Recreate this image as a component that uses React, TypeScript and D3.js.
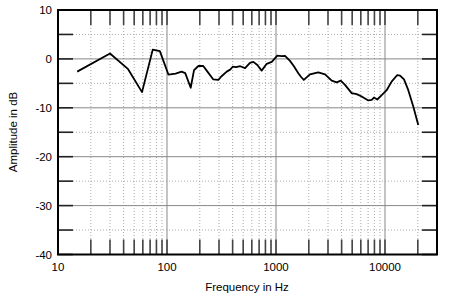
import React from "react";
import * as d3 from "d3";

const freqs = [15, 30, 44, 59, 74, 86, 103, 120, 136, 147, 165, 177, 194, 215, 235, 266, 296, 315, 353, 380, 401, 430, 470, 520, 577, 620, 674, 739, 822, 914, 1028, 1130, 1210, 1344, 1460, 1602, 1700, 1800, 2050, 2443, 2818, 3246, 3606, 3926, 4297, 4946, 5500, 6105, 7031, 7550, 7925, 8497, 9330, 10360, 11500, 12960, 13740, 14940, 16360, 18200, 20200];
const levels = [-2.6, 1.1, -2.1, -6.8, 1.9, 1.6, -3.2, -3.0, -2.6, -2.9, -5.9, -2.3, -1.45, -1.45, -2.6, -4.2, -4.3, -3.6, -2.6, -2.2, -1.6, -1.7, -1.5, -1.9, -0.8, -0.6, -1.25, -2.4, -1.0, -0.6, 0.65, 0.55, 0.6, -0.4, -1.5, -2.95, -3.7, -4.3, -3.15, -2.75, -3.15, -4.45, -4.8, -4.45, -5.3, -7.0, -7.2, -7.7, -8.5, -8.4, -7.9, -8.3, -7.4, -6.4, -4.65, -3.3, -3.4, -4.2, -6.4, -9.8, -13.5];

const yMajor = [10, 0, -10, -20, -30, -40];
const yMinor = [5, -5, -15, -25, -35];
const xMajor = [10, 100, 1000, 10000];
const xMinor = [20, 30, 40, 50, 60, 70, 80, 90, 200, 300, 400, 500, 600, 700, 800, 900, 2000, 3000, 4000, 5000, 6000, 7000, 8000, 9000, 20000];

export default function App() {
  const W = 450, H = 297;
  const L = 58, R = 437, T = 10, B = 254.5;
  const x = d3.scaleLog().domain([10, 30000]).range([L, R]);
  const y = d3.scaleLinear().domain([-40, 10]).range([B, T]);
  const line = d3.line<number>().x((d, i) => x(freqs[i])).y((d) => y(d)).curve(d3.curveLinear);
  const font = "'Liberation Sans', Arial, sans-serif";
  const tickLen = 15;
  return (
    <svg width={W} height={H} style={{ position: "absolute", left: 0, top: 0, background: "#fff" }} fontFamily={font}>
      {/* minor grid */}
      {xMinor.map((f) => (
        <line key={"xm" + f} x1={x(f)} x2={x(f)} y1={T} y2={B} stroke="#aaa" strokeWidth={1} strokeDasharray="1,2" />
      ))}
      {yMinor.map((v) => (
        <line key={"ym" + v} x1={L} x2={R} y1={y(v)} y2={y(v)} stroke="#aaa" strokeWidth={1} strokeDasharray="1,2" />
      ))}
      {/* major grid */}
      {xMajor.map((f) => (
        <line key={"xM" + f} x1={x(f)} x2={x(f)} y1={T} y2={B} stroke="#888" strokeWidth={1} />
      ))}
      {yMajor.map((v) => (
        <line key={"yM" + v} x1={L} x2={R} y1={y(v)} y2={y(v)} stroke="#888" strokeWidth={1} />
      ))}
      {/* ticks */}
      {[...xMinor, ...xMajor.slice(1)].map((f) => (
        <g key={"xt" + f}>
          <line x1={x(f)} x2={x(f)} y1={B} y2={B - tickLen} stroke="#444" strokeWidth={1.6} />
          <line x1={x(f)} x2={x(f)} y1={T} y2={T + tickLen} stroke="#444" strokeWidth={1.6} />
        </g>
      ))}
      {[...yMajor, ...yMinor].map((v) => (
        <g key={"yt" + v}>
          <line x1={L} x2={L + tickLen} y1={y(v)} y2={y(v)} stroke="#222" strokeWidth={1.6} />
          <line x1={R} x2={R - tickLen} y1={y(v)} y2={y(v)} stroke="#222" strokeWidth={1.6} />
        </g>
      ))}
      {/* curve */}
      <path d={line(levels) || ""} fill="none" stroke="#000" strokeWidth={1.8} strokeLinejoin="round" />
      {/* frame */}
      <rect x={L} y={T} width={R - L} height={B - T} fill="none" stroke="#000" strokeWidth={2} />
      {/* labels */}
      {yMajor.map((v) => (
        <text key={"yl" + v} x={52} y={y(v) + 4} textAnchor="end" fontSize={11.5} fill="#000">{v}</text>
      ))}
      {xMajor.map((f) => (
        <text key={"xl" + f} x={x(f)} y={271} textAnchor="middle" fontSize={11.5} fill="#000">{f}</text>
      ))}
      <text x={247} y={291} textAnchor="middle" fontSize={11.5} fill="#000">Frequency in Hz</text>
      <text transform={`translate(17,132) rotate(-90)`} textAnchor="middle" fontSize={11.5} fill="#000">Amplitude in dB</text>
    </svg>
  );
}
